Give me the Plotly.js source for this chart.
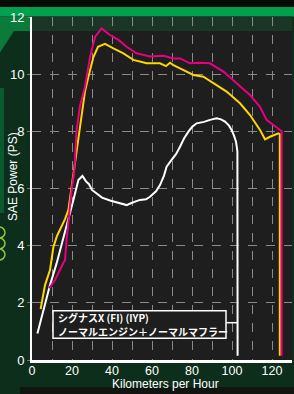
<!DOCTYPE html>
<html><head><meta charset="utf-8">
<script src="https://cdn.plot.ly/plotly-3.0.1.min.js"></script>
<style>html,body{margin:0;padding:0;background:#0c2e1a;}#c{width:294px;height:394px;}</style>
</head><body><div id="c"></div>
<script>
// Data (km/h vs SAE PS)
const yellowSpeed = [4.3, 6.5, 9, 10.7, 12.5, 14.8, 16.5, 18.2, 19.5, 21, 22.3, 24.5, 26.5, 28.2, 30.7, 33, 36.5, 40.7, 45.7, 50.7, 57.3, 64, 67, 69, 70.7, 74, 80.7, 85.7, 90.7, 97.3, 104, 109, 114, 116.5, 119, 123.2, 123.9, 123.9];
const yellowPower = [1.78, 2.62, 3.15, 3.95, 4.34, 4.66, 4.93, 5.25, 5.9, 6.6, 7.35, 8.5, 9.4, 9.91, 10.6, 10.96, 11.06, 10.9, 10.73, 10.5, 10.38, 10.38, 10.28, 10.4, 10.32, 10.2, 9.97, 9.91, 9.68, 9.39, 8.98, 8.57, 8.05, 7.72, 7.81, 7.93, 7.9, 0.15];

const pinkSpeed = [8.5, 11.5, 14.8, 16.5, 17.3, 18.2, 19.8, 21.2, 22.3, 24, 26.5, 29, 31.5, 34.8, 39, 43.2, 47.3, 52.3, 59, 65.7, 70.7, 74, 79, 84, 89, 95.7, 102.3, 109, 114, 117.3, 120.7, 123.2, 124.8, 124.8];
const pinkPower = [2.51, 2.8, 3.27, 3.5, 4.2, 4.9, 5.95, 6.65, 8.05, 8.9, 9.56, 10.6, 11.3, 11.6, 11.37, 11.2, 10.96, 10.73, 10.62, 10.64, 10.55, 10.55, 10.38, 10.4, 10.38, 10.09, 9.68, 9.27, 8.86, 8.4, 8.22, 8.1, 8.0, 0.15];

const whiteSpeed = [2.7, 5.7, 9, 12.3, 15.7, 18.2, 20.7, 23.2, 25.2, 27, 28.5, 30, 32.3, 35, 39, 43, 47.3, 50, 54, 57, 59, 62, 64, 66, 67.3, 69.8, 72, 74, 76, 78.2, 80, 82.3, 86, 89, 92.3, 94.5, 96.5, 98.5, 99.8, 101, 102, 102.7, 102.8];
const whitePower = [0.93, 1.75, 2.62, 3.38, 4.26, 4.9, 5.6, 6.3, 6.44, 6.25, 6.15, 5.95, 5.83, 5.68, 5.58, 5.5, 5.42, 5.5, 5.6, 5.62, 5.71, 5.9, 6.12, 6.45, 6.76, 7.0, 7.2, 7.46, 7.75, 7.99, 8.15, 8.28, 8.33, 8.4, 8.46, 8.42, 8.34, 8.2, 8.05, 7.85, 7.64, 7.3, 0.15];

const xTicks = [0, 20, 40, 60, 80, 100, 120];
const yTicks = [0, 2, 4, 6, 8, 10, 12];
const legendLines = ['シグナスX (FI) (IYP)', 'ノーマルエンジン＋ノーマルマフラー'];
const xTitle = 'Kilometers per Hour';
const yTitle = 'SAE Power (PS)';

// pixel -> paper helpers for decorations
const L = 32, R = 292, T = 17, B = 360;
const px = x => (x - L) / (R - L);
const py = y => (B - y) / (B - T);

const line = (x, y, c) => ({x, y, type: 'scatter', mode: 'lines', line: {color: c, width: 2}, hoverinfo: 'skip', showlegend: false});

const traces = [
  line(whiteSpeed, whitePower, '#ffffff'),
  line(yellowSpeed, yellowPower, '#ffd700'),
  line(pinkSpeed, pinkPower, '#e8007f')
];

const rectP = (x0, y0, x1, y1, c, layer) => ({type: 'rect', xref: 'paper', yref: 'paper', x0: px(x0), x1: px(x1), y0: py(y1), y1: py(y0), fillcolor: c, line: {width: 0}, layer: layer || 'below'});

const shapes = [
  rectP(-40, -5, 300, 7, '#060b08'),
  rectP(-40, 7, 300, 16.5, '#00a14e'),
  {type: 'path', xref: 'paper', yref: 'paper', layer: 'below',
   path: `M ${px(-1)} ${py(16.5)} L ${px(32)} ${py(16.5)} L ${px(32)} ${py(31)} L ${px(14)} ${py(31)} L ${px(-1)} ${py(54)} Z`,
   fillcolor: '#0b7b3c', line: {width: 0}},
  rectP(32, 16.5, 292, 31, '#1b3527'),
  rectP(-1, 88, 4, 213, '#0b5a2f'),
  {type: 'circle', xref: 'paper', yref: 'paper', x0: px(-7), x1: px(5), y0: py(238), y1: py(227), line: {color: '#8dc63f', width: 1.5}, layer: 'below'},
  {type: 'circle', xref: 'paper', yref: 'paper', x0: px(-7), x1: px(5), y0: py(249), y1: py(238), line: {color: '#8dc63f', width: 1.5}, layer: 'below'},
  {type: 'circle', xref: 'paper', yref: 'paper', x0: px(-7), x1: px(5), y0: py(260), y1: py(249), line: {color: '#8dc63f', width: 1.5}, layer: 'below'},
  rectP(20, 387, 300, 400, '#111511'),
  // legend box and connector
  {type: 'rect', xref: 'paper', yref: 'paper', x0: px(53), x1: px(226), y0: py(338.3), y1: py(310.7), fillcolor: '#1e1e1e', line: {color: '#ffffff', width: 1.5}, layer: 'above'},
  {type: 'line', xref: 'paper', yref: 'paper', x0: px(226), x1: px(238), y0: py(322.7), y1: py(322.7), line: {color: '#ffffff', width: 1.5}, layer: 'above'}
];

const legFont = {family: 'Noto Sans CJK JP', size: 10, color: '#ffffff', weight: 'bold'};
const annotations = [
  {xref: 'paper', yref: 'paper', x: px(55.5), y: py(317.5), xanchor: 'left', yanchor: 'middle', align: 'left', showarrow: false,
   text: legendLines[0], font: legFont},
  {xref: 'paper', yref: 'paper', x: px(55.5), y: py(331), xanchor: 'left', yanchor: 'middle', align: 'left', showarrow: false,
   text: legendLines[1], font: legFont},
  {xref: 'paper', yref: 'paper', x: px(13), y: py(177), xanchor: 'center', yanchor: 'middle', textangle: -90, showarrow: false,
   text: yTitle, font: {family: 'Liberation Sans', size: 12, color: '#ffffff'}},
  {xref: 'paper', yref: 'paper', x: px(165), y: py(383.5), xanchor: 'center', yanchor: 'middle', showarrow: false,
   text: xTitle, font: {family: 'Liberation Sans', size: 12, color: '#ffffff'}}
];

const layout = {
  width: 294, height: 394,
  margin: {l: L, r: 294 - R, t: T, b: 394 - B, pad: 0},
  paper_bgcolor: '#0c2e1a', plot_bgcolor: '#1e1e1e',
  showlegend: false,
  font: {family: 'Liberation Sans', color: '#ffffff', size: 12},
  xaxis: {range: [0, 130], tickvals: xTicks, ticktext: xTicks.map(String),
    showgrid: true, gridcolor: '#8a8a8a', griddash: 'dash', gridwidth: 1,
    minor: {dtick: 10, tick0: 0, showgrid: true, gridcolor: '#8a8a8a', griddash: 'dash', gridwidth: 1},
    showline: true, linecolor: '#ffffff', linewidth: 2.5, zeroline: false,
    ticks: '', ticklen: 0, ticklabelstandoff: -3, tickfont: {size: 12.5, color: '#ffffff'}, fixedrange: true},
  yaxis: {range: [0, 12], tickvals: yTicks, ticktext: yTicks.map(String),
    showgrid: true, gridcolor: '#8a8a8a', griddash: 'dash', gridwidth: 1,
    showline: true, linecolor: '#ffffff', linewidth: 2, zeroline: false,
    ticks: 'outside', ticklen: 3, tickcolor: '#777777', tickfont: {size: 13, color: '#ffffff'}, fixedrange: true},
  shapes, annotations
};

Plotly.newPlot('c', traces, layout, {displayModeBar: false, staticPlot: true});
</script></body></html>
